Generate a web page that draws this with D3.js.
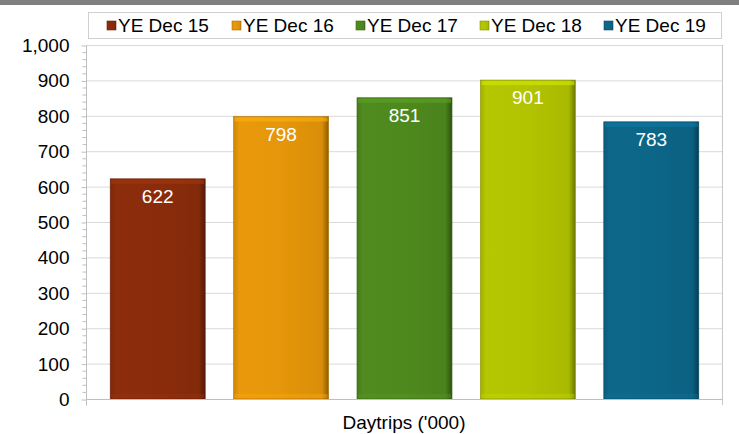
<!DOCTYPE html>
<html>
<head>
<meta charset="utf-8">
<script src="https://cdn.jsdelivr.net/npm/d3@7"></script>
<style>
  body { margin: 0; background: #fff; }
  svg { display: block; font-family: "Liberation Sans", Arial, sans-serif; }
  text { font-family: "Liberation Sans", Arial, sans-serif; }
</style>
</head>
<body>
<svg id="chart" width="739" height="434"></svg>
<script>
const series = ['YE Dec 15', 'YE Dec 16', 'YE Dec 17', 'YE Dec 18', 'YE Dec 19'];
const values = [622, 798, 851, 901, 783];
const colors = ['#8a2c0b', '#e5960a', '#4e891e', '#b2c300', '#0c6688'];
const yTicks = [0, 100, 200, 300, 400, 500, 600, 700, 800, 900, 1000];
const category = "Daytrips ('000)";

const svg = d3.select('#chart');
const W = 739;
const FS = 19;
const plot = { left: 86, right: 722, top: 45, bottom: 399 };

// top grey band
svg.append('rect').attr('x', 0).attr('y', 0).attr('width', W).attr('height', 5).attr('fill', '#808080');

const y = d3.scaleLinear().domain([0, 1000]).range([plot.bottom, plot.top]);
const x = d3.scaleBand().domain(series).range([96, 713]).paddingInner(0.23).paddingOuter(0.115);

// gradients per bar
const defs = svg.append('defs');
colors.forEach((c, i) => {
  const g = defs.append('linearGradient').attr('id', 'g' + i).attr('x1', 0).attr('x2', 1).attr('y1', 0).attr('y2', 0);
  const base = d3.color(c);
  g.append('stop').attr('offset', '0%').attr('stop-color', base.darker(0.3));
  g.append('stop').attr('offset', '6%').attr('stop-color', base.brighter(0.05));
  g.append('stop').attr('offset', '50%').attr('stop-color', base);
  g.append('stop').attr('offset', '93%').attr('stop-color', base.darker(0.15));
  g.append('stop').attr('offset', '100%').attr('stop-color', base.darker(1.4));
});

// gridlines
svg.append('g').selectAll('line').data(yTicks.slice(1)).join('line')
  .attr('x1', plot.left).attr('x2', plot.right)
  .attr('y1', d => y(d) + 0.5).attr('y2', d => y(d) + 0.5)
  .attr('stroke', '#d9d9d9').attr('stroke-width', 1);

// plot area right border
svg.append('line').attr('x1', plot.right + 0.5).attr('x2', plot.right + 0.5)
  .attr('y1', plot.top).attr('y2', plot.bottom + 6).attr('stroke', '#c8c8c8');

// y axis with minor ticks
const yAxis = d3.axisLeft(y).tickValues(yTicks).tickSize(5).tickPadding(12)
  .tickFormat(d3.format(','));
const ya = svg.append('g').attr('transform', `translate(${plot.left + 0.5},0.5)`).call(yAxis);
ya.select('.domain').attr('stroke', '#bfbfbf').attr('d', `M0,${plot.top}V${plot.bottom + 6}`);
ya.selectAll('.tick line').attr('stroke', '#bfbfbf');
ya.selectAll('.tick text').attr('font-size', FS).attr('fill', '#000')
  .attr('font-family', '"Liberation Sans", Arial, sans-serif');
ya.append('g').selectAll('line').data(d3.range(0, 1000, 20).filter(v => v % 100 !== 0)).join('line')
  .attr('x1', -4).attr('x2', 0).attr('y1', d => y(d)).attr('y2', d => y(d)).attr('stroke', '#bfbfbf');

// bars
const bars = svg.append('g').selectAll('g').data(series).join('g');
bars.append('rect')
  .attr('x', d => x(d)).attr('width', x.bandwidth())
  .attr('y', (d, i) => y(values[i])).attr('height', (d, i) => y(0) - y(values[i]))
  .attr('fill', (d, i) => `url(#g${i})`)
  .attr('stroke', (d, i) => d3.color(colors[i]).darker(0.8)).attr('stroke-width', 0.6);
bars.append('rect')
  .attr('x', d => x(d) + 1).attr('width', x.bandwidth() - 2)
  .attr('y', (d, i) => y(values[i]) + 1).attr('height', 4)
  .attr('fill', (d, i) => d3.color(colors[i]).brighter(0.5)).attr('opacity', 0.6);
bars.append('rect')
  .attr('x', d => x(d) + 1).attr('width', x.bandwidth() - 2)
  .attr('y', y(0) - 5).attr('height', 4)
  .attr('fill', (d, i) => d3.color(colors[i]).brighter(0.3)).attr('opacity', 0.4);
bars.append('text')
  .attr('x', d => x(d) + x.bandwidth() / 2)
  .attr('y', (d, i) => y(values[i]) + 24)
  .attr('text-anchor', 'middle').attr('font-size', FS).attr('fill', '#fff')
  .text((d, i) => values[i]);

// x axis line and category label
svg.append('line').attr('x1', plot.left).attr('x2', plot.right + 1)
  .attr('y1', plot.bottom + 0.5).attr('y2', plot.bottom + 0.5).attr('stroke', '#bfbfbf');
svg.append('text').attr('x', (plot.left + plot.right) / 2).attr('y', 429)
  .attr('text-anchor', 'middle').attr('font-size', FS).attr('fill', '#000').text(category);

// legend
const lg = svg.append('g');
lg.append('rect').attr('x', 88.5).attr('y', 12.5).attr('width', 633).attr('height', 26)
  .attr('fill', '#fff').attr('stroke', '#d0d0d0');
const legendX = [107, 232, 356, 480, 604];
const items = lg.selectAll('g').data(series).join('g')
  .attr('transform', (d, i) => `translate(${legendX[i]},25)`);
items.append('rect').attr('x', 0).attr('y', -4).attr('width', 9).attr('height', 9)
  .attr('fill', (d, i) => `url(#g${i})`).attr('stroke', (d, i) => d3.color(colors[i]).darker(0.8)).attr('stroke-width', 0.6);
items.append('text').attr('x', 11).attr('y', 7).attr('font-size', FS).attr('fill', '#000').text(d => d);
</script>
</body>
</html>
